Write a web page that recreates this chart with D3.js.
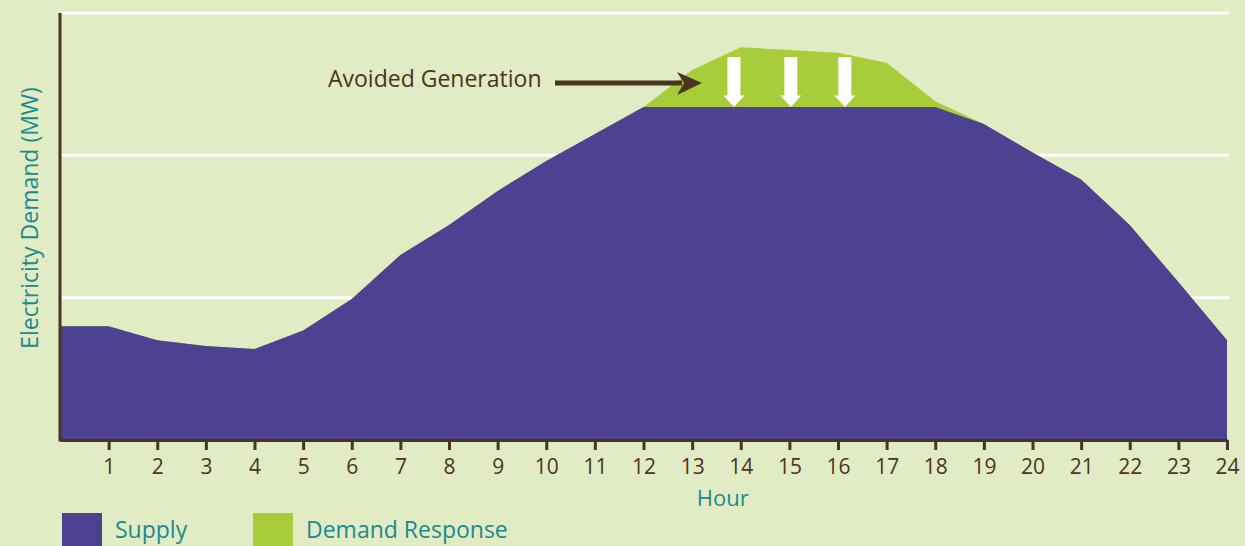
<!DOCTYPE html>
<html>
<head>
<meta charset="utf-8">
<script src="https://cdn.jsdelivr.net/npm/d3@7"></script>
<style>
  html, body { margin: 0; padding: 0; background: #e2ecc4; }
  svg { display: block; font-family: "Open Sans", sans-serif; }
</style>
</head>
<body>
<div class="svg-wrapper"></div>
<script>
// hours 0..24
hours       = d3.range(0, 25);
tick_hours  = d3.range(1, 25);
supply      = [0.80, 0.80, 0.70, 0.66, 0.64, 0.77, 0.99, 1.30, 1.51, 1.75, 1.96, 2.15, 2.34,
               2.34, 2.34, 2.34, 2.34, 2.34, 2.34, 2.22, 2.02, 1.83, 1.51, 1.11, 0.70];
demand      = [0.80, 0.80, 0.70, 0.66, 0.64, 0.77, 0.99, 1.30, 1.51, 1.75, 1.96, 2.15, 2.34,
               2.60, 2.76, 2.74, 2.72, 2.65, 2.38, 2.22, 2.02, 1.83, 1.51, 1.11, 0.70];
grid_values = [1, 2, 3];
arrow_hours = [13.86, 15.03, 16.14];
legend_items = [
  { name: "Supply", color: "#4d4191" },
  { name: "Demand Response", color: "#a8cd3a" }
];

var width = 1245, height = 546;
var brown = "#4b3421", teal = "#1b8a8e";

var svg = d3.select(".svg-wrapper").append("svg")
  .attr("width", width)
  .attr("height", height);

var xScale = d3.scaleLinear().domain([0, 24]).range([60, 1227]),
    yScale = d3.scaleLinear().domain([0, 3]).range([440, 13]);

// gridlines
svg.selectAll(".grid")
  .data(grid_values)
  .enter().append("line")
    .attr("class", "grid")
    .attr("x1", xScale(0) + 2)
    .attr("x2", xScale(24) + 2)
    .attr("y1", function(d) { return yScale(d); })
    .attr("y2", function(d) { return yScale(d); })
    .attr("stroke", "#ffffff")
    .attr("stroke-width", 3);

var area = d3.area()
  .x(function(d, i) { return xScale(hours[i]); })
  .y0(yScale(0))
  .y1(function(d) { return yScale(d); });

svg.append("path")
  .attr("d", area(demand))
  .attr("fill", legend_items[1].color);

svg.append("path")
  .attr("d", area(supply))
  .attr("fill", legend_items[0].color);

// white down arrows
var arrowTop = yScale(2.69), headStart = yScale(2.42), tip = yScale(2.34);
svg.selectAll(".down")
  .data(arrow_hours)
  .enter().append("path")
    .attr("class", "down")
    .attr("fill", "#ffffff")
    .attr("d", function(h) {
      var cx = xScale(h);
      return "M" + (cx - 6.5) + "," + arrowTop +
             "L" + (cx + 6.5) + "," + arrowTop +
             "L" + (cx + 6.5) + "," + headStart +
             "L" + (cx + 10.5) + "," + headStart +
             "L" + cx + "," + tip +
             "L" + (cx - 10.5) + "," + headStart +
             "L" + (cx - 6.5) + "," + headStart + "Z";
    });

// axes
var xAxis = d3.axisBottom(xScale)
  .tickValues(tick_hours)
  .tickSize(10)
  .tickPadding(9)
  .tickSizeOuter(0);

var g_xAxis = svg.append("g")
  .attr("transform", "translate(0," + yScale(0) + ")")
  .call(xAxis);

g_xAxis.select(".domain").attr("stroke", brown).attr("stroke-width", 3);
g_xAxis.selectAll(".tick line").attr("stroke", brown).attr("stroke-width", 3);
g_xAxis.selectAll(".tick text")
  .attr("fill", brown)
  .attr("font-size", 21)
  .attr("font-family", "'Open Sans', sans-serif");

svg.append("line")
  .attr("x1", xScale(0)).attr("x2", xScale(0))
  .attr("y1", yScale(3)).attr("y2", yScale(0) + 1.5)
  .attr("stroke", brown)
  .attr("stroke-width", 3);

// axis titles
svg.append("text")
  .attr("transform", "translate(38," + 218 + ") rotate(-90)")
  .attr("text-anchor", "middle")
  .attr("fill", teal)
  .attr("font-size", 23)
  .text("Electricity Demand (MW)");

svg.append("text")
  .attr("x", xScale(13.63))
  .attr("y", 506)
  .attr("text-anchor", "middle")
  .attr("fill", teal)
  .attr("font-size", 22)
  .text("Hour");

// annotation
svg.append("text")
  .attr("x", 328)
  .attr("y", 87)
  .attr("fill", brown)
  .attr("font-size", 23)
  .text("Avoided Generation");

svg.append("line")
  .attr("x1", 555).attr("x2", 682)
  .attr("y1", 83).attr("y2", 83)
  .attr("stroke", brown)
  .attr("stroke-width", 5);

svg.append("path")
  .attr("d", "M677,72L702,83L677,95L684,83Z")
  .attr("fill", brown);

// legend
var legend = svg.selectAll(".legend")
  .data(legend_items)
  .enter().append("g")
    .attr("class", "legend")
    .attr("transform", function(d, i) { return "translate(" + (62 + i * 191) + ",513)"; });

legend.append("rect")
  .attr("width", 40)
  .attr("height", 33)
  .attr("fill", function(d) { return d.color; });

legend.append("text")
  .attr("x", 53)
  .attr("y", 25)
  .attr("fill", teal)
  .attr("font-size", 23)
  .text(function(d) { return d.name; });
</script>
</body>
</html>
